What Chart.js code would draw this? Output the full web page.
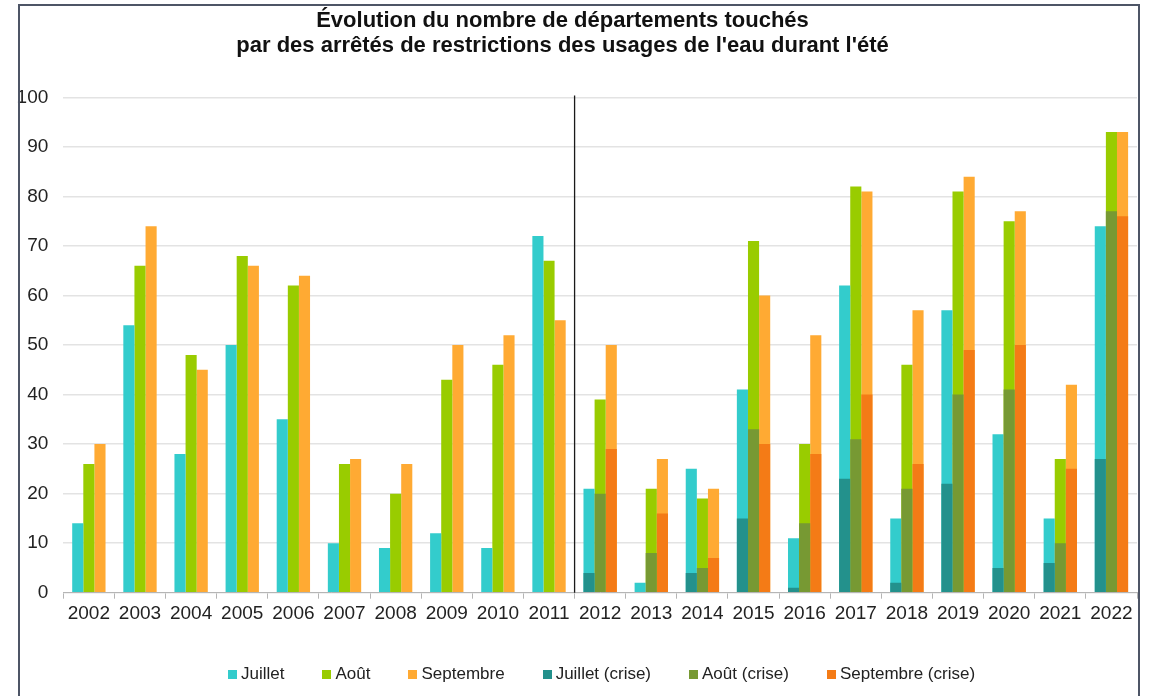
<!DOCTYPE html>
<html lang="fr">
<head>
<meta charset="utf-8">
<script src="https://cdn.jsdelivr.net/npm/chart.js@4/dist/chart.umd.min.js"></script>
<style>
  html, body { margin: 0; padding: 0; background: #fff; }
  #wrap { position: relative; width: 1153px; height: 696px; overflow: hidden; font-family: "Liberation Sans", Arial, sans-serif; }
  #c { position: absolute; left: 0; top: 0; }
  #frame { position: absolute; left: 18px; top: 4px; width: 1118px; height: 760px; border: 2px solid #4d5566; pointer-events: none; }
  #legend { position: absolute; left: 228px; top: 664px; display: flex; align-items: center; font-size: 17px; color: #222; white-space: nowrap; }
  #legend .item { display: flex; align-items: center; margin-right: 38px; }
  #legend .box { width: 9px; height: 9px; margin-right: 4px; }
</style>
</head>
<body>
<div id="wrap">
  <canvas id="c" width="1153" height="696"></canvas>
  <div id="frame"></div>
  <div id="legend"></div>
</div>
<script>
const years = ['2002','2003','2004','2005','2006','2007','2008','2009','2010','2011','2012','2013','2014','2015','2016','2017','2018','2019','2020','2021','2022'];
const juillet = [14,54,28,50,35,10,9,12,9,72,21,2,25,41,11,62,15,57,32,15,74];
const aout = [26,66,48,68,62,26,20,43,46,67,39,21,19,71,30,82,46,81,75,27,93];
const septembre = [30,74,45,66,64,27,26,50,52,55,50,27,21,60,52,81,57,84,77,42,93];
const juilletCrise = [null,null,null,null,null,null,null,null,null,null,4,0,4,15,1,23,2,22,5,6,27];
const aoutCrise = [null,null,null,null,null,null,null,null,null,null,20,8,5,33,14,31,21,40,41,10,77];
const septembreCrise = [null,null,null,null,null,null,null,null,null,null,29,16,7,30,28,40,26,49,50,25,76];
const yTicks = [0,10,20,30,40,50,60,70,80,90,100];
const titleLines = ["Évolution du nombre de départements touchés", "par des arrêtés de restrictions des usages de l'eau durant l'été"];

const FONT = '"Liberation Sans", Arial, sans-serif';

const separator = {
  id: 'separator',
  afterDatasetsDraw(chart) {
    const x = chart.scales.x;
    const px = (x.getPixelForValue(9) + x.getPixelForValue(10)) / 2;
    const ctx = chart.ctx;
    ctx.save();
    ctx.strokeStyle = '#1a1a1a';
    ctx.lineWidth = 1.3;
    ctx.beginPath();
    ctx.moveTo(px, chart.chartArea.top - 2);
    ctx.lineTo(px, chart.chartArea.bottom);
    ctx.stroke();
    ctx.restore();
  }
};

const ds = (label, data, color, stack, order) => ({
  label, data, backgroundColor: color, stack, order,
  borderWidth: 0, categoryPercentage: 0.652, barPercentage: 1.0
});

const chart = new Chart(document.getElementById('c'), {
  type: 'bar',
  data: {
    labels: years,
    datasets: [
      ds('Juillet', juillet, '#33CCCC', 'j', 2),
      ds('Août', aout, '#99CC00', 'a', 2),
      ds('Septembre', septembre, '#FFAA33', 's', 2),
      ds('Juillet (crise)', juilletCrise, '#23918C', 'j', 1),
      ds('Août (crise)', aoutCrise, '#779933', 'a', 1),
      ds('Septembre (crise)', septembreCrise, '#F47B16', 's', 1)
    ]
  },
  options: {
    responsive: false,
    animation: false,
    layout: { padding: { left: -12, right: 16, top: 0, bottom: 0 } },
    plugins: {
      legend: { display: false },
      tooltip: { enabled: false },
      title: {
        display: true,
        text: titleLines,
        color: '#111',
        font: { family: FONT, size: 22, weight: 'bold', lineHeight: 1.136 },
        padding: { top: 8.5, bottom: 38.9 }
      }
    },
    scales: {
      x: {
        stacked: true,
        offset: true,
        grid: { offset: true, drawOnChartArea: false, drawTicks: true, tickLength: 6, color: '#b5b5b5' },
        border: { display: true, color: '#b5b5b5', width: 1 },
        ticks: { color: '#222', font: { family: FONT, size: 19 }, padding: 4, maxRotation: 0, autoSkip: false },
        afterFit(s) { s.height = 103.3; }
      },
      y: {
        stacked: false,
        min: 0, max: 100,
        afterBuildTicks(s) { s.ticks = yTicks.map(v => ({ value: v })); },
        grid: { color: '#e3e3e3', lineWidth: 1.5, drawTicks: false },
        border: { display: false },
        ticks: { color: '#222', font: { family: FONT, size: 19 }, padding: 15 },
        afterFit(s) { s.width = 75.3; }
      }
    }
  },
  plugins: [separator]
});

// HTML legend built from the chart's datasets
const leg = document.getElementById('legend');
chart.data.datasets.forEach(d => {
  const it = document.createElement('div'); it.className = 'item';
  const b = document.createElement('span'); b.className = 'box'; b.style.background = d.backgroundColor;
  const t = document.createElement('span'); t.textContent = d.label;
  it.appendChild(b); it.appendChild(t); leg.appendChild(it);
});
</script>
</body>
</html>
